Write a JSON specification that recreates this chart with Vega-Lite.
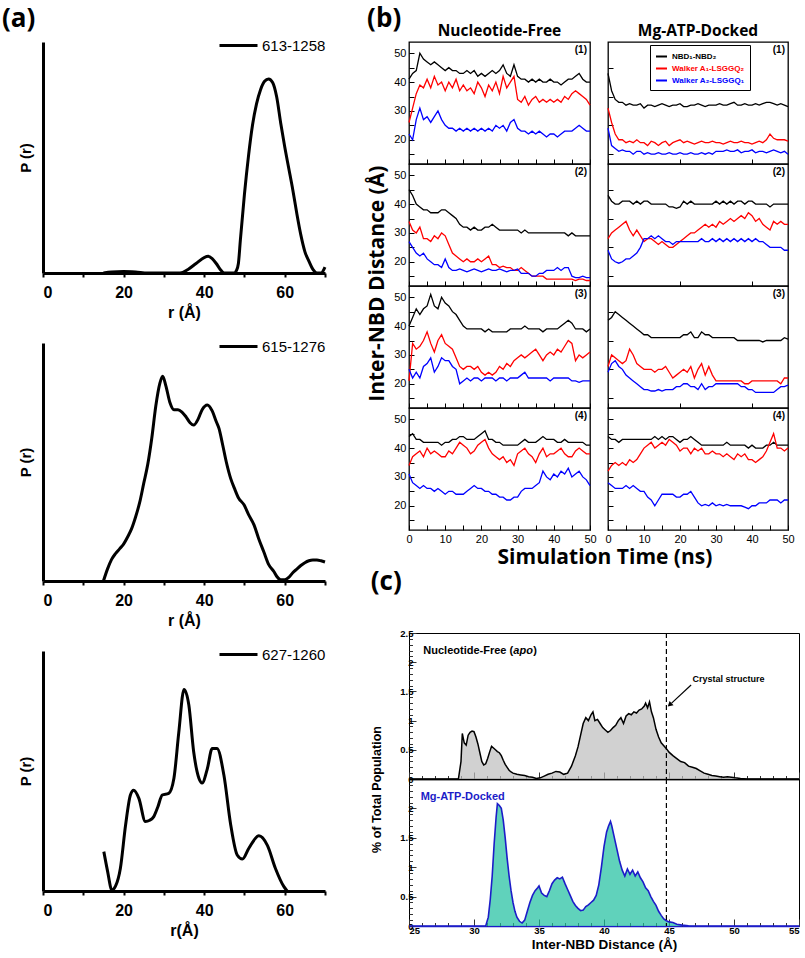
{
"$schema": "https://vega.github.io/schema/vega-lite/v6.json",
"padding": {"left": 2, "top": 5, "right": 2, "bottom": 2},
"background": "white",
"config": {
 "view": {"stroke": null},
 "font": "Liberation Sans",
 "axis": {"grid": false, "domainColor": "black", "tickColor": "black", "labelColor": "black", "titleColor": "black", "labelOverlap": false},
 "title": {"color": "black"}
},
"datasets": {
"a1": [{"r":15,"P":0},{"r":17,"P":0.004},{"r":20,"P":0.006},{"r":23,"P":0.004},{"r":26,"P":0},{"r":30,"P":0},{"r":34,"P":0},{"r":36,"P":0.015},{"r":38,"P":0.04},{"r":40,"P":0.065},{"r":41,"P":0.07},{"r":42,"P":0.06},{"r":43,"P":0.04},{"r":44,"P":0.015},{"r":45,"P":0},{"r":47.5,"P":0},{"r":48,"P":0.01},{"r":48.5,"P":0.04},{"r":49,"P":0.14},{"r":50,"P":0.33},{"r":51,"P":0.49},{"r":52,"P":0.62},{"r":53,"P":0.71},{"r":54,"P":0.77},{"r":55,"P":0.805},{"r":56,"P":0.815},{"r":57,"P":0.8},{"r":58,"P":0.74},{"r":59,"P":0.63},{"r":60,"P":0.53},{"r":61,"P":0.44},{"r":62,"P":0.35},{"r":63,"P":0.25},{"r":64,"P":0.16},{"r":65,"P":0.09},{"r":66,"P":0.05},{"r":67,"P":0.015},{"r":68,"P":0},{"r":69,"P":0},{"r":70,"P":0.025}],
"a2": [{"r":15,"P":0},{"r":16,"P":0.05},{"r":17,"P":0.09},{"r":18,"P":0.115},{"r":19,"P":0.135},{"r":20,"P":0.155},{"r":21,"P":0.185},{"r":22,"P":0.22},{"r":23,"P":0.27},{"r":24,"P":0.33},{"r":25,"P":0.41},{"r":26,"P":0.49},{"r":27,"P":0.6},{"r":28,"P":0.735},{"r":29,"P":0.83},{"r":29.7,"P":0.86},{"r":30.5,"P":0.82},{"r":31.5,"P":0.75},{"r":32.5,"P":0.72},{"r":33.5,"P":0.72},{"r":34.5,"P":0.71},{"r":35.5,"P":0.69},{"r":36.5,"P":0.665},{"r":37.4,"P":0.655},{"r":38.5,"P":0.68},{"r":39.5,"P":0.72},{"r":40.8,"P":0.74},{"r":42,"P":0.715},{"r":43,"P":0.67},{"r":43.7,"P":0.64},{"r":44.5,"P":0.58},{"r":45.5,"P":0.5},{"r":46.6,"P":0.43},{"r":47.5,"P":0.39},{"r":48.5,"P":0.35},{"r":49.9,"P":0.32},{"r":51,"P":0.28},{"r":52.4,"P":0.235},{"r":53.5,"P":0.18},{"r":54.8,"P":0.123},{"r":56,"P":0.07},{"r":57.3,"P":0.04},{"r":58,"P":0.02},{"r":59,"P":0.005},{"r":60,"P":0.005},{"r":61,"P":0.015},{"r":62,"P":0.035},{"r":63,"P":0.05},{"r":64,"P":0.065},{"r":65,"P":0.077},{"r":66,"P":0.085},{"r":67,"P":0.088},{"r":68,"P":0.088},{"r":69,"P":0.085},{"r":70,"P":0.08}],
"a3": [{"r":15.1,"P":0.164},{"r":16,"P":0.085},{"r":17.1,"P":0.004},{"r":18,"P":0.02},{"r":19.2,"P":0.094},{"r":20.5,"P":0.275},{"r":21.7,"P":0.4},{"r":22.5,"P":0.42},{"r":23.8,"P":0.386},{"r":25.4,"P":0.29},{"r":26.5,"P":0.295},{"r":27.5,"P":0.31},{"r":28.5,"P":0.35},{"r":29.6,"P":0.4},{"r":31.2,"P":0.407},{"r":32.5,"P":0.47},{"r":33.7,"P":0.66},{"r":35,"P":0.84},{"r":36.2,"P":0.775},{"r":37.4,"P":0.58},{"r":38.7,"P":0.47},{"r":39.5,"P":0.45},{"r":40.8,"P":0.51},{"r":42,"P":0.594},{"r":43.2,"P":0.594},{"r":44.9,"P":0.483},{"r":46.6,"P":0.275},{"r":48.2,"P":0.15},{"r":49.5,"P":0.133},{"r":51.1,"P":0.178},{"r":53.6,"P":0.23},{"r":55.7,"P":0.19},{"r":57.7,"P":0.094},{"r":59.8,"P":0.018},{"r":60.6,"P":0}],
"cfree": [{"d":25,"p":0},{"d":28.8,"p":0},{"d":29.0,"p":0.3},{"d":29.1,"p":0.78},{"d":29.25,"p":0.62},{"d":29.4,"p":0.58},{"d":29.55,"p":0.75},{"d":29.7,"p":0.8},{"d":29.85,"p":0.82},{"d":30.0,"p":0.81},{"d":30.15,"p":0.72},{"d":30.3,"p":0.6},{"d":30.45,"p":0.45},{"d":30.6,"p":0.3},{"d":30.75,"p":0.24},{"d":30.9,"p":0.26},{"d":31.05,"p":0.35},{"d":31.2,"p":0.46},{"d":31.35,"p":0.56},{"d":31.5,"p":0.53},{"d":31.65,"p":0.5},{"d":31.8,"p":0.47},{"d":31.95,"p":0.45},{"d":32.1,"p":0.4},{"d":32.25,"p":0.32},{"d":32.4,"p":0.25},{"d":32.55,"p":0.2},{"d":32.7,"p":0.15},{"d":32.85,"p":0.12},{"d":33.0,"p":0.1},{"d":33.3,"p":0.08},{"d":33.6,"p":0.07},{"d":33.9,"p":0.06},{"d":34.2,"p":0.04},{"d":34.5,"p":0.03},{"d":34.8,"p":0.01},{"d":35.1,"p":0.02},{"d":35.4,"p":0.05},{"d":35.7,"p":0.08},{"d":36.0,"p":0.1},{"d":36.3,"p":0.13},{"d":36.6,"p":0.12},{"d":36.9,"p":0.08},{"d":37.2,"p":0.1},{"d":37.5,"p":0.22},{"d":37.8,"p":0.4},{"d":38.0,"p":0.55},{"d":38.2,"p":0.75},{"d":38.4,"p":0.95},{"d":38.6,"p":1.05},{"d":38.8,"p":1.0},{"d":39.0,"p":1.1},{"d":39.15,"p":1.15},{"d":39.3,"p":1.0},{"d":39.5,"p":1.02},{"d":39.7,"p":0.95},{"d":39.9,"p":0.88},{"d":40.1,"p":0.84},{"d":40.3,"p":0.8},{"d":40.5,"p":0.83},{"d":40.7,"p":0.88},{"d":40.9,"p":0.92},{"d":41.1,"p":1.0},{"d":41.3,"p":1.05},{"d":41.5,"p":0.95},{"d":41.7,"p":1.08},{"d":41.9,"p":1.12},{"d":42.1,"p":1.1},{"d":42.3,"p":1.15},{"d":42.5,"p":1.13},{"d":42.7,"p":1.18},{"d":42.9,"p":1.2},{"d":43.1,"p":1.25},{"d":43.2,"p":1.3},{"d":43.35,"p":1.22},{"d":43.5,"p":1.32},{"d":43.65,"p":1.15},{"d":43.8,"p":1.05},{"d":44.0,"p":0.85},{"d":44.2,"p":0.72},{"d":44.4,"p":0.62},{"d":44.6,"p":0.57},{"d":44.8,"p":0.52},{"d":45.0,"p":0.46},{"d":45.3,"p":0.4},{"d":45.6,"p":0.35},{"d":45.9,"p":0.3},{"d":46.2,"p":0.28},{"d":46.5,"p":0.22},{"d":46.8,"p":0.2},{"d":47.1,"p":0.18},{"d":47.4,"p":0.14},{"d":47.7,"p":0.1},{"d":48.0,"p":0.08},{"d":48.3,"p":0.06},{"d":48.6,"p":0.05},{"d":48.9,"p":0.04},{"d":49.2,"p":0.03},{"d":49.5,"p":0.04},{"d":49.8,"p":0.03},{"d":50.1,"p":0.02},{"d":50.5,"p":0.01},{"d":51,"p":0},{"d":55,"p":0}],
"cmg": [{"d":25,"p":0},{"d":30.9,"p":0},{"d":31.1,"p":0.15},{"d":31.25,"p":0.45},{"d":31.4,"p":0.85},{"d":31.55,"p":1.4},{"d":31.7,"p":1.85},{"d":31.8,"p":2.08},{"d":31.95,"p":2.05},{"d":32.1,"p":2.0},{"d":32.25,"p":1.8},{"d":32.4,"p":1.5},{"d":32.55,"p":1.15},{"d":32.7,"p":0.85},{"d":32.85,"p":0.6},{"d":33.0,"p":0.4},{"d":33.15,"p":0.25},{"d":33.3,"p":0.15},{"d":33.5,"p":0.08},{"d":33.7,"p":0.05},{"d":33.9,"p":0.1},{"d":34.1,"p":0.25},{"d":34.3,"p":0.4},{"d":34.5,"p":0.52},{"d":34.7,"p":0.6},{"d":34.9,"p":0.65},{"d":35.0,"p":0.68},{"d":35.2,"p":0.56},{"d":35.4,"p":0.52},{"d":35.6,"p":0.5},{"d":35.8,"p":0.6},{"d":36.0,"p":0.72},{"d":36.2,"p":0.78},{"d":36.4,"p":0.82},{"d":36.6,"p":0.8},{"d":36.8,"p":0.83},{"d":37.0,"p":0.72},{"d":37.2,"p":0.62},{"d":37.4,"p":0.52},{"d":37.6,"p":0.42},{"d":37.8,"p":0.35},{"d":38.0,"p":0.3},{"d":38.2,"p":0.26},{"d":38.4,"p":0.27},{"d":38.6,"p":0.33},{"d":38.8,"p":0.36},{"d":39.0,"p":0.4},{"d":39.2,"p":0.44},{"d":39.4,"p":0.52},{"d":39.6,"p":0.7},{"d":39.8,"p":1.0},{"d":40.0,"p":1.35},{"d":40.2,"p":1.6},{"d":40.35,"p":1.7},{"d":40.5,"p":1.78},{"d":40.6,"p":1.7},{"d":40.8,"p":1.5},{"d":41.0,"p":1.3},{"d":41.2,"p":1.1},{"d":41.4,"p":0.95},{"d":41.6,"p":0.85},{"d":41.8,"p":0.97},{"d":42.0,"p":0.88},{"d":42.2,"p":0.95},{"d":42.4,"p":0.85},{"d":42.6,"p":0.92},{"d":42.8,"p":0.82},{"d":43.0,"p":0.75},{"d":43.2,"p":0.65},{"d":43.4,"p":0.6},{"d":43.6,"p":0.5},{"d":43.8,"p":0.42},{"d":44.0,"p":0.35},{"d":44.2,"p":0.25},{"d":44.4,"p":0.18},{"d":44.6,"p":0.12},{"d":44.8,"p":0.09},{"d":45.0,"p":0.07},{"d":45.3,"p":0.06},{"d":45.6,"p":0.03},{"d":46.0,"p":0.015},{"d":46.5,"p":0.005},{"d":47,"p":0},{"d":55,"p":0}],
"ts": [
{"p":"NF1","t":0,"n":41,"a":26,"b":22},{"p":"NF1","t":1,"n":43,"a":31,"b":20},{"p":"NF1","t":2,"n":44,"a":36,"b":27},{"p":"NF1","t":3,"n":50,"a":39,"b":31},{"p":"NF1","t":4,"n":48,"a":38,"b":27},{"p":"NF1","t":5,"n":47,"a":41,"b":28},{"p":"NF1","t":6,"n":46,"a":38,"b":26},{"p":"NF1","t":7,"n":47,"a":42,"b":28},{"p":"NF1","t":8,"n":46,"a":39,"b":30},{"p":"NF1","t":9,"n":45,"a":40,"b":27},{"p":"NF1","t":10,"n":44,"a":37,"b":25},{"p":"NF1","t":11,"n":45,"a":40,"b":24},{"p":"NF1","t":12,"n":44,"a":38,"b":24},{"p":"NF1","t":13,"n":44,"a":41,"b":23},{"p":"NF1","t":14,"n":43,"a":37,"b":24},{"p":"NF1","t":15,"n":43,"a":39,"b":23},{"p":"NF1","t":16,"n":44,"a":37,"b":24},{"p":"NF1","t":17,"n":43,"a":38,"b":23},{"p":"NF1","t":18,"n":44,"a":36,"b":24},{"p":"NF1","t":19,"n":42,"a":40,"b":23},{"p":"NF1","t":20,"n":43,"a":38,"b":24},{"p":"NF1","t":21,"n":42,"a":35,"b":23},{"p":"NF1","t":22,"n":43,"a":39,"b":24},{"p":"NF1","t":23,"n":44,"a":37,"b":23},{"p":"NF1","t":24,"n":43,"a":40,"b":25},{"p":"NF1","t":25,"n":44,"a":36,"b":24},{"p":"NF1","t":26,"n":46,"a":42,"b":25},{"p":"NF1","t":27,"n":43,"a":38,"b":23},{"p":"NF1","t":28,"n":42,"a":40,"b":26},{"p":"NF1","t":29,"n":46,"a":42,"b":27},{"p":"NF1","t":30,"n":42,"a":34,"b":24},{"p":"NF1","t":31,"n":41,"a":33,"b":23},{"p":"NF1","t":32,"n":41,"a":35,"b":23},{"p":"NF1","t":33,"n":40,"a":32,"b":22},{"p":"NF1","t":34,"n":41,"a":34,"b":23},{"p":"NF1","t":35,"n":40,"a":35,"b":22},{"p":"NF1","t":36,"n":41,"a":33,"b":23},{"p":"NF1","t":37,"n":40,"a":34,"b":22},{"p":"NF1","t":38,"n":40,"a":33,"b":21},{"p":"NF1","t":39,"n":41,"a":34,"b":22},{"p":"NF1","t":40,"n":40,"a":33,"b":22},{"p":"NF1","t":41,"n":40,"a":34,"b":21},{"p":"NF1","t":42,"n":39,"a":33,"b":22},{"p":"NF1","t":43,"n":40,"a":35,"b":23},{"p":"NF1","t":44,"n":41,"a":34,"b":23},{"p":"NF1","t":45,"n":41,"a":36,"b":23},{"p":"NF1","t":46,"n":42,"a":37,"b":24},{"p":"NF1","t":47,"n":43,"a":36,"b":25},{"p":"NF1","t":48,"n":41,"a":35,"b":24},{"p":"NF1","t":49,"n":40,"a":34,"b":23},{"p":"NF1","t":50,"n":40,"a":32,"b":23},
{"p":"MG1","t":0,"n":43,"a":31,"b":24},{"p":"MG1","t":1,"n":37,"a":26,"b":18},{"p":"MG1","t":2,"n":34,"a":22,"b":17},{"p":"MG1","t":3,"n":33,"a":20,"b":16},{"p":"MG1","t":4,"n":33,"a":20,"b":16.5},{"p":"MG1","t":5,"n":32,"a":19,"b":16},{"p":"MG1","t":6,"n":32.5,"a":19.5,"b":16},{"p":"MG1","t":7,"n":32,"a":19,"b":15},{"p":"MG1","t":8,"n":32,"a":20,"b":16},{"p":"MG1","t":9,"n":32.5,"a":19,"b":16},{"p":"MG1","t":10,"n":31,"a":19,"b":15},{"p":"MG1","t":11,"n":32,"a":18,"b":15.5},{"p":"MG1","t":12,"n":32,"a":19.5,"b":15},{"p":"MG1","t":13,"n":31.5,"a":19,"b":15},{"p":"MG1","t":14,"n":32,"a":18,"b":15.5},{"p":"MG1","t":15,"n":32.5,"a":19,"b":15},{"p":"MG1","t":16,"n":32,"a":19.5,"b":15},{"p":"MG1","t":17,"n":31.5,"a":18,"b":15.5},{"p":"MG1","t":18,"n":32,"a":19,"b":15},{"p":"MG1","t":19,"n":32,"a":19.5,"b":15},{"p":"MG1","t":20,"n":32.5,"a":20,"b":15.5},{"p":"MG1","t":21,"n":31.5,"a":19,"b":15},{"p":"MG1","t":22,"n":31.5,"a":19.5,"b":15},{"p":"MG1","t":23,"n":32,"a":19,"b":15.5},{"p":"MG1","t":24,"n":32,"a":18.5,"b":15},{"p":"MG1","t":25,"n":32.5,"a":19,"b":15},{"p":"MG1","t":26,"n":32,"a":19.5,"b":15.5},{"p":"MG1","t":27,"n":31.5,"a":19,"b":15},{"p":"MG1","t":28,"n":32,"a":19,"b":15.5},{"p":"MG1","t":29,"n":32,"a":19.5,"b":15},{"p":"MG1","t":30,"n":32,"a":19,"b":16},{"p":"MG1","t":31,"n":32.5,"a":19,"b":16},{"p":"MG1","t":32,"n":32,"a":18.5,"b":16},{"p":"MG1","t":33,"n":32,"a":19,"b":16.5},{"p":"MG1","t":34,"n":32.5,"a":19.5,"b":16},{"p":"MG1","t":35,"n":33,"a":19,"b":16},{"p":"MG1","t":36,"n":32,"a":19,"b":16.5},{"p":"MG1","t":37,"n":32,"a":19.5,"b":15.5},{"p":"MG1","t":38,"n":32.5,"a":19,"b":16},{"p":"MG1","t":39,"n":32,"a":19,"b":16},{"p":"MG1","t":40,"n":32,"a":18.5,"b":16.5},{"p":"MG1","t":41,"n":32.5,"a":19,"b":15.5},{"p":"MG1","t":42,"n":32,"a":19.5,"b":16},{"p":"MG1","t":43,"n":32.5,"a":19,"b":16},{"p":"MG1","t":44,"n":33,"a":20,"b":15.5},{"p":"MG1","t":45,"n":33,"a":22,"b":16},{"p":"MG1","t":46,"n":32.5,"a":20.5,"b":16.5},{"p":"MG1","t":47,"n":32,"a":20,"b":16},{"p":"MG1","t":48,"n":32.5,"a":20,"b":15.5},{"p":"MG1","t":49,"n":32,"a":20,"b":16},{"p":"MG1","t":50,"n":31.5,"a":19.5,"b":15},
{"p":"NF2","t":0,"n":45,"a":34,"b":27},{"p":"NF2","t":1,"n":43,"a":31,"b":25},{"p":"NF2","t":2,"n":40,"a":30,"b":23},{"p":"NF2","t":3,"n":39,"a":32,"b":22},{"p":"NF2","t":4,"n":38,"a":28,"b":23},{"p":"NF2","t":5,"n":38,"a":28,"b":21},{"p":"NF2","t":6,"n":37,"a":27,"b":20},{"p":"NF2","t":7,"n":37,"a":29,"b":19},{"p":"NF2","t":8,"n":37,"a":28,"b":19},{"p":"NF2","t":9,"n":38,"a":30,"b":18},{"p":"NF2","t":10,"n":38,"a":29,"b":21},{"p":"NF2","t":11,"n":37,"a":26,"b":18},{"p":"NF2","t":12,"n":36,"a":23,"b":17},{"p":"NF2","t":13,"n":35,"a":22,"b":17},{"p":"NF2","t":14,"n":33,"a":21,"b":17.5},{"p":"NF2","t":15,"n":32,"a":20,"b":17},{"p":"NF2","t":16,"n":32,"a":21,"b":16.5},{"p":"NF2","t":17,"n":31,"a":20,"b":17},{"p":"NF2","t":18,"n":32,"a":20,"b":17.5},{"p":"NF2","t":19,"n":31,"a":21,"b":17},{"p":"NF2","t":20,"n":31,"a":20,"b":16.5},{"p":"NF2","t":21,"n":32,"a":21,"b":17},{"p":"NF2","t":22,"n":32,"a":22,"b":17.5},{"p":"NF2","t":23,"n":33,"a":19,"b":17},{"p":"NF2","t":24,"n":32,"a":19,"b":17},{"p":"NF2","t":25,"n":31,"a":18,"b":17.5},{"p":"NF2","t":26,"n":31,"a":18.5,"b":17},{"p":"NF2","t":27,"n":31,"a":18,"b":16.5},{"p":"NF2","t":28,"n":31,"a":18,"b":17},{"p":"NF2","t":29,"n":31,"a":17,"b":17},{"p":"NF2","t":30,"n":31,"a":17,"b":17.5},{"p":"NF2","t":31,"n":30,"a":18,"b":16},{"p":"NF2","t":32,"n":31,"a":17,"b":16},{"p":"NF2","t":33,"n":30,"a":16,"b":16},{"p":"NF2","t":34,"n":30,"a":15,"b":15},{"p":"NF2","t":35,"n":30,"a":15,"b":15},{"p":"NF2","t":36,"n":30,"a":15,"b":16},{"p":"NF2","t":37,"n":30,"a":15,"b":16},{"p":"NF2","t":38,"n":30,"a":14,"b":17},{"p":"NF2","t":39,"n":30,"a":14,"b":17},{"p":"NF2","t":40,"n":30,"a":14,"b":17},{"p":"NF2","t":41,"n":30,"a":14,"b":18},{"p":"NF2","t":42,"n":30,"a":14,"b":17},{"p":"NF2","t":43,"n":30,"a":14,"b":18},{"p":"NF2","t":44,"n":29,"a":14,"b":18},{"p":"NF2","t":45,"n":30,"a":14,"b":15},{"p":"NF2","t":46,"n":29,"a":13.5,"b":14.5},{"p":"NF2","t":47,"n":29,"a":14,"b":14.5},{"p":"NF2","t":48,"n":29,"a":14,"b":15},{"p":"NF2","t":49,"n":29,"a":13.5,"b":14.5},{"p":"NF2","t":50,"n":29,"a":13.5,"b":14.5},
{"p":"MG2","t":0,"n":43,"a":28,"b":24},{"p":"MG2","t":1,"n":41,"a":30,"b":21},{"p":"MG2","t":2,"n":40,"a":31,"b":20},{"p":"MG2","t":3,"n":40,"a":32,"b":19.5},{"p":"MG2","t":4,"n":41,"a":33,"b":20},{"p":"MG2","t":5,"n":41,"a":34,"b":21},{"p":"MG2","t":6,"n":41,"a":31,"b":21},{"p":"MG2","t":7,"n":40,"a":29,"b":22},{"p":"MG2","t":8,"n":41,"a":31,"b":23},{"p":"MG2","t":9,"n":40,"a":29,"b":25},{"p":"MG2","t":10,"n":41,"a":27,"b":28},{"p":"MG2","t":11,"n":41,"a":28,"b":28},{"p":"MG2","t":12,"n":40,"a":28,"b":29},{"p":"MG2","t":13,"n":40,"a":27,"b":28},{"p":"MG2","t":14,"n":40,"a":26,"b":29},{"p":"MG2","t":15,"n":40,"a":27,"b":28},{"p":"MG2","t":16,"n":40,"a":26,"b":27},{"p":"MG2","t":17,"n":39,"a":25,"b":27},{"p":"MG2","t":18,"n":39,"a":25,"b":26},{"p":"MG2","t":19,"n":38.5,"a":26,"b":27},{"p":"MG2","t":20,"n":39,"a":27,"b":27},{"p":"MG2","t":21,"n":41,"a":28,"b":27},{"p":"MG2","t":22,"n":40,"a":29,"b":27},{"p":"MG2","t":23,"n":41,"a":30,"b":27},{"p":"MG2","t":24,"n":40,"a":30,"b":27},{"p":"MG2","t":25,"n":40,"a":31,"b":27},{"p":"MG2","t":26,"n":40,"a":32,"b":28},{"p":"MG2","t":27,"n":40,"a":33,"b":27},{"p":"MG2","t":28,"n":40,"a":32,"b":27},{"p":"MG2","t":29,"n":40,"a":33,"b":28},{"p":"MG2","t":30,"n":41,"a":32,"b":27},{"p":"MG2","t":31,"n":40,"a":34,"b":28},{"p":"MG2","t":32,"n":41,"a":33,"b":27},{"p":"MG2","t":33,"n":40,"a":34,"b":28},{"p":"MG2","t":34,"n":41,"a":35,"b":27},{"p":"MG2","t":35,"n":40,"a":34,"b":28},{"p":"MG2","t":36,"n":41,"a":35,"b":27},{"p":"MG2","t":37,"n":41,"a":36,"b":28},{"p":"MG2","t":38,"n":40,"a":35,"b":27},{"p":"MG2","t":39,"n":41,"a":37,"b":28},{"p":"MG2","t":40,"n":41,"a":36,"b":27},{"p":"MG2","t":41,"n":40,"a":34,"b":28},{"p":"MG2","t":42,"n":40,"a":35,"b":27},{"p":"MG2","t":43,"n":40,"a":33,"b":27},{"p":"MG2","t":44,"n":40,"a":32,"b":26},{"p":"MG2","t":45,"n":39,"a":31,"b":25},{"p":"MG2","t":46,"n":40,"a":34,"b":25},{"p":"MG2","t":47,"n":40,"a":33,"b":25},{"p":"MG2","t":48,"n":40,"a":34,"b":25},{"p":"MG2","t":49,"n":40,"a":33,"b":24},{"p":"MG2","t":50,"n":40,"a":33,"b":24},
{"p":"NF3","t":0,"n":40,"a":21,"b":25},{"p":"NF3","t":1,"n":43,"a":34,"b":22},{"p":"NF3","t":2,"n":46,"a":32,"b":24},{"p":"NF3","t":3,"n":44,"a":33,"b":22},{"p":"NF3","t":4,"n":46,"a":35,"b":26},{"p":"NF3","t":5,"n":47,"a":38,"b":27},{"p":"NF3","t":6,"n":51,"a":34,"b":29},{"p":"NF3","t":7,"n":47,"a":31,"b":24},{"p":"NF3","t":8,"n":46,"a":35,"b":26},{"p":"NF3","t":9,"n":50,"a":37,"b":29},{"p":"NF3","t":10,"n":48,"a":34,"b":28},{"p":"NF3","t":11,"n":47,"a":33,"b":28},{"p":"NF3","t":12,"n":45,"a":32,"b":26},{"p":"NF3","t":13,"n":44,"a":29,"b":25},{"p":"NF3","t":14,"n":42,"a":26,"b":20},{"p":"NF3","t":15,"n":40,"a":25,"b":21},{"p":"NF3","t":16,"n":39,"a":26,"b":22},{"p":"NF3","t":17,"n":39,"a":26,"b":21},{"p":"NF3","t":18,"n":39,"a":25,"b":22},{"p":"NF3","t":19,"n":39,"a":26,"b":22},{"p":"NF3","t":20,"n":39,"a":24,"b":21},{"p":"NF3","t":21,"n":38,"a":23,"b":22},{"p":"NF3","t":22,"n":39,"a":24,"b":22},{"p":"NF3","t":23,"n":38,"a":23,"b":22},{"p":"NF3","t":24,"n":38,"a":24,"b":21},{"p":"NF3","t":25,"n":38,"a":26,"b":22},{"p":"NF3","t":26,"n":38,"a":25,"b":22},{"p":"NF3","t":27,"n":38,"a":27,"b":21},{"p":"NF3","t":28,"n":39,"a":26,"b":22},{"p":"NF3","t":29,"n":39,"a":28,"b":22},{"p":"NF3","t":30,"n":39,"a":29,"b":22},{"p":"NF3","t":31,"n":39,"a":30,"b":23},{"p":"NF3","t":32,"n":40,"a":29,"b":24},{"p":"NF3","t":33,"n":39,"a":30,"b":22},{"p":"NF3","t":34,"n":39,"a":31,"b":22},{"p":"NF3","t":35,"n":39,"a":32,"b":22},{"p":"NF3","t":36,"n":39,"a":30,"b":22},{"p":"NF3","t":37,"n":38,"a":28,"b":22},{"p":"NF3","t":38,"n":39,"a":30,"b":22},{"p":"NF3","t":39,"n":39,"a":31,"b":21},{"p":"NF3","t":40,"n":39,"a":30,"b":22},{"p":"NF3","t":41,"n":39,"a":32,"b":22},{"p":"NF3","t":42,"n":40,"a":31,"b":22},{"p":"NF3","t":43,"n":41,"a":33,"b":22},{"p":"NF3","t":44,"n":42,"a":35,"b":22},{"p":"NF3","t":45,"n":41,"a":34,"b":21},{"p":"NF3","t":46,"n":39,"a":28,"b":21},{"p":"NF3","t":47,"n":39,"a":30,"b":20.5},{"p":"NF3","t":48,"n":39,"a":29,"b":21},{"p":"NF3","t":49,"n":38,"a":30,"b":21},{"p":"NF3","t":50,"n":39,"a":31,"b":21},
{"p":"MG3","t":0,"n":42,"a":26,"b":24},{"p":"MG3","t":1,"n":43,"a":30,"b":27},{"p":"MG3","t":2,"n":45,"a":29,"b":28},{"p":"MG3","t":3,"n":44,"a":28,"b":26},{"p":"MG3","t":4,"n":43,"a":27,"b":25},{"p":"MG3","t":5,"n":42,"a":28,"b":23},{"p":"MG3","t":6,"n":41,"a":32,"b":22},{"p":"MG3","t":7,"n":40,"a":30,"b":21},{"p":"MG3","t":8,"n":39,"a":27,"b":20},{"p":"MG3","t":9,"n":38,"a":26,"b":19},{"p":"MG3","t":10,"n":37,"a":25,"b":18},{"p":"MG3","t":11,"n":37,"a":25,"b":18},{"p":"MG3","t":12,"n":36,"a":25,"b":17.5},{"p":"MG3","t":13,"n":36,"a":24,"b":17.5},{"p":"MG3","t":14,"n":36,"a":25,"b":18},{"p":"MG3","t":15,"n":36,"a":25,"b":17.5},{"p":"MG3","t":16,"n":36,"a":26,"b":18},{"p":"MG3","t":17,"n":36,"a":24,"b":18},{"p":"MG3","t":18,"n":36,"a":22,"b":18},{"p":"MG3","t":19,"n":36,"a":23,"b":19},{"p":"MG3","t":20,"n":36,"a":24,"b":19},{"p":"MG3","t":21,"n":37,"a":25,"b":20},{"p":"MG3","t":22,"n":37,"a":24,"b":20},{"p":"MG3","t":23,"n":38,"a":26,"b":19},{"p":"MG3","t":24,"n":36,"a":22,"b":19},{"p":"MG3","t":25,"n":36,"a":25,"b":18},{"p":"MG3","t":26,"n":38,"a":27,"b":20},{"p":"MG3","t":27,"n":37,"a":23,"b":18},{"p":"MG3","t":28,"n":37,"a":26,"b":19},{"p":"MG3","t":29,"n":36,"a":23,"b":19},{"p":"MG3","t":30,"n":36,"a":21,"b":20},{"p":"MG3","t":31,"n":36,"a":21,"b":20},{"p":"MG3","t":32,"n":36,"a":21,"b":20},{"p":"MG3","t":33,"n":36,"a":21,"b":20},{"p":"MG3","t":34,"n":36,"a":21,"b":20},{"p":"MG3","t":35,"n":36,"a":21,"b":20},{"p":"MG3","t":36,"n":35,"a":21,"b":20},{"p":"MG3","t":37,"n":35,"a":21,"b":19},{"p":"MG3","t":38,"n":35,"a":20,"b":19},{"p":"MG3","t":39,"n":35,"a":20,"b":18},{"p":"MG3","t":40,"n":35,"a":21,"b":18},{"p":"MG3","t":41,"n":35,"a":21,"b":17},{"p":"MG3","t":42,"n":35,"a":21,"b":17},{"p":"MG3","t":43,"n":34.5,"a":21,"b":17},{"p":"MG3","t":44,"n":35,"a":21,"b":17},{"p":"MG3","t":45,"n":35,"a":21,"b":17},{"p":"MG3","t":46,"n":35,"a":21,"b":17},{"p":"MG3","t":47,"n":35,"a":21,"b":18},{"p":"MG3","t":48,"n":35,"a":20,"b":19},{"p":"MG3","t":49,"n":36,"a":22,"b":19},{"p":"MG3","t":50,"n":35.5,"a":22,"b":19.5},
{"p":"NF4","t":0,"n":44,"a":34,"b":31},{"p":"NF4","t":1,"n":45,"a":37,"b":28},{"p":"NF4","t":2,"n":43,"a":38,"b":27},{"p":"NF4","t":3,"n":43,"a":39,"b":26},{"p":"NF4","t":4,"n":42,"a":37,"b":27},{"p":"NF4","t":5,"n":42,"a":40,"b":26},{"p":"NF4","t":6,"n":42,"a":38,"b":26},{"p":"NF4","t":7,"n":42,"a":39,"b":25},{"p":"NF4","t":8,"n":42,"a":38,"b":26},{"p":"NF4","t":9,"n":41,"a":37,"b":25},{"p":"NF4","t":10,"n":42,"a":37,"b":24},{"p":"NF4","t":11,"n":42,"a":39,"b":25},{"p":"NF4","t":12,"n":43,"a":38,"b":25},{"p":"NF4","t":13,"n":43,"a":40,"b":24},{"p":"NF4","t":14,"n":44,"a":42,"b":24},{"p":"NF4","t":15,"n":44,"a":41,"b":24},{"p":"NF4","t":16,"n":43,"a":40,"b":25},{"p":"NF4","t":17,"n":43,"a":38,"b":26},{"p":"NF4","t":18,"n":43,"a":39,"b":27},{"p":"NF4","t":19,"n":44,"a":41,"b":26},{"p":"NF4","t":20,"n":45,"a":42,"b":26},{"p":"NF4","t":21,"n":46,"a":43,"b":25},{"p":"NF4","t":22,"n":43,"a":40,"b":25},{"p":"NF4","t":23,"n":43,"a":38,"b":24},{"p":"NF4","t":24,"n":42,"a":37,"b":24},{"p":"NF4","t":25,"n":42,"a":36,"b":23},{"p":"NF4","t":26,"n":41,"a":37,"b":23},{"p":"NF4","t":27,"n":41,"a":35,"b":22},{"p":"NF4","t":28,"n":41,"a":36,"b":22},{"p":"NF4","t":29,"n":41,"a":34,"b":23},{"p":"NF4","t":30,"n":41,"a":38,"b":23},{"p":"NF4","t":31,"n":42,"a":39,"b":25},{"p":"NF4","t":32,"n":43,"a":40,"b":26},{"p":"NF4","t":33,"n":42,"a":38,"b":26},{"p":"NF4","t":34,"n":42,"a":37,"b":26},{"p":"NF4","t":35,"n":42,"a":35,"b":27},{"p":"NF4","t":36,"n":43,"a":38,"b":28},{"p":"NF4","t":37,"n":44,"a":40,"b":32},{"p":"NF4","t":38,"n":43,"a":37,"b":30},{"p":"NF4","t":39,"n":43,"a":38,"b":29},{"p":"NF4","t":40,"n":43,"a":38,"b":31},{"p":"NF4","t":41,"n":42,"a":39,"b":30},{"p":"NF4","t":42,"n":42,"a":40,"b":32},{"p":"NF4","t":43,"n":43,"a":38,"b":31},{"p":"NF4","t":44,"n":42,"a":37,"b":33},{"p":"NF4","t":45,"n":42,"a":37,"b":30},{"p":"NF4","t":46,"n":42,"a":39,"b":31},{"p":"NF4","t":47,"n":42,"a":40,"b":32},{"p":"NF4","t":48,"n":42,"a":39,"b":30},{"p":"NF4","t":49,"n":41,"a":38,"b":29},{"p":"NF4","t":50,"n":41,"a":38,"b":27},
{"p":"MG4","t":0,"n":44,"a":32,"b":28},{"p":"MG4","t":1,"n":43,"a":34,"b":27},{"p":"MG4","t":2,"n":43,"a":35,"b":26},{"p":"MG4","t":3,"n":42,"a":34,"b":26},{"p":"MG4","t":4,"n":43,"a":35,"b":26},{"p":"MG4","t":5,"n":43,"a":34,"b":27},{"p":"MG4","t":6,"n":43,"a":36,"b":26},{"p":"MG4","t":7,"n":43,"a":35,"b":27},{"p":"MG4","t":8,"n":43,"a":36,"b":26},{"p":"MG4","t":9,"n":43,"a":38,"b":25},{"p":"MG4","t":10,"n":43,"a":40,"b":25},{"p":"MG4","t":11,"n":43,"a":41,"b":23},{"p":"MG4","t":12,"n":43,"a":42,"b":22},{"p":"MG4","t":13,"n":44,"a":40,"b":20},{"p":"MG4","t":14,"n":43,"a":41,"b":22},{"p":"MG4","t":15,"n":44,"a":42,"b":24},{"p":"MG4","t":16,"n":43,"a":41,"b":24},{"p":"MG4","t":17,"n":44,"a":43,"b":24},{"p":"MG4","t":18,"n":44,"a":42,"b":24},{"p":"MG4","t":19,"n":43,"a":41,"b":23},{"p":"MG4","t":20,"n":42,"a":39,"b":23},{"p":"MG4","t":21,"n":43,"a":40,"b":24},{"p":"MG4","t":22,"n":43,"a":40,"b":24},{"p":"MG4","t":23,"n":44,"a":38,"b":25},{"p":"MG4","t":24,"n":43,"a":40,"b":23},{"p":"MG4","t":25,"n":42,"a":39,"b":21},{"p":"MG4","t":26,"n":41,"a":40,"b":20},{"p":"MG4","t":27,"n":41,"a":38,"b":20.5},{"p":"MG4","t":28,"n":41,"a":38,"b":20},{"p":"MG4","t":29,"n":41,"a":39,"b":21},{"p":"MG4","t":30,"n":41,"a":38,"b":20},{"p":"MG4","t":31,"n":41,"a":38,"b":20.5},{"p":"MG4","t":32,"n":41,"a":37,"b":20},{"p":"MG4","t":33,"n":42,"a":38,"b":20.5},{"p":"MG4","t":34,"n":41,"a":37,"b":20},{"p":"MG4","t":35,"n":41,"a":36,"b":20},{"p":"MG4","t":36,"n":41,"a":38,"b":20},{"p":"MG4","t":37,"n":41,"a":37,"b":20},{"p":"MG4","t":38,"n":41,"a":38,"b":19.5},{"p":"MG4","t":39,"n":40,"a":36,"b":19},{"p":"MG4","t":40,"n":41,"a":36,"b":20},{"p":"MG4","t":41,"n":40,"a":35,"b":20},{"p":"MG4","t":42,"n":40,"a":36,"b":21},{"p":"MG4","t":43,"n":40,"a":37,"b":21},{"p":"MG4","t":44,"n":41,"a":39,"b":21},{"p":"MG4","t":45,"n":41,"a":42,"b":22},{"p":"MG4","t":46,"n":42,"a":45,"b":22},{"p":"MG4","t":47,"n":41,"a":40,"b":22},{"p":"MG4","t":48,"n":41,"a":40,"b":21},{"p":"MG4","t":49,"n":41,"a":39,"b":22},{"p":"MG4","t":50,"n":41,"a":40,"b":22}
]
},
"resolve": {"scale": {"color": "independent"}},
"spacing": 36,
"hconcat": [
{
 "spacing": 6,
 "resolve": {"scale": {"color": "independent"}},
 "vconcat": [
  {"width": 282, "height": 231, "data": {"name": "a1"},
   "title": {"text": "(a)", "anchor": "start", "frame": "bounds", "font": "Open Sans", "fontSize": 26, "fontWeight": "bold", "dx": -16, "offset": -7},
   "mark": {"type": "line", "interpolate": "monotone", "strokeWidth": 3},
   "encoding": {
    "x": {"field": "r", "type": "quantitative", "scale": {"domain": [0, 70], "nice": false}, "axis": {"title": "r (Å)", "values": [0,10,20,30,40,50,60,70], "labelExpr": "datum.value % 20 == 0 ? datum.label : ''", "labelFontSize": 16, "labelFontWeight": "bold", "labelPadding": 7, "titleFontSize": 16, "titleFontWeight": "bold", "titlePadding": 4, "domainWidth": 3, "tickSize": 4, "tickWidth": 2}},
    "y": {"field": "P", "type": "quantitative", "scale": {"domain": [0, 0.97], "nice": false}, "axis": {"title": "P (r)", "labels": false, "ticks": false, "domainWidth": 3, "titleFontSize": 15, "titleFontWeight": "bold", "titlePadding": 10, "minExtent": 0}},
    "color": {"datum": "613-1258", "type": "nominal", "scale": {"range": ["#000000"]}, "legend": {"orient": "none", "legendX": 175, "legendY": -17, "title": null, "symbolType": "stroke", "symbolSize": 1444, "symbolStrokeWidth": 3, "labelFontSize": 15, "labelOffset": 3, "padding": 0}}
   }},
  {"width": 282, "height": 238, "data": {"name": "a2"},
   "mark": {"type": "line", "interpolate": "monotone", "strokeWidth": 3},
   "encoding": {
    "x": {"field": "r", "type": "quantitative", "scale": {"domain": [0, 70], "nice": false}, "axis": {"title": "r (Å)", "values": [0,10,20,30,40,50,60,70], "labelExpr": "datum.value % 20 == 0 ? datum.label : ''", "labelFontSize": 16, "labelFontWeight": "bold", "labelPadding": 7, "titleFontSize": 16, "titleFontWeight": "bold", "titlePadding": 4, "domainWidth": 3, "tickSize": 4, "tickWidth": 2}},
    "y": {"field": "P", "type": "quantitative", "scale": {"domain": [0, 1], "nice": false}, "axis": {"title": "P (r)", "labels": false, "ticks": false, "domainWidth": 3, "titleFontSize": 15, "titleFontWeight": "bold", "titlePadding": 10, "minExtent": 0}},
    "color": {"datum": "615-1276", "type": "nominal", "scale": {"range": ["#000000"]}, "legend": {"orient": "none", "legendX": 175, "legendY": -17, "title": null, "symbolType": "stroke", "symbolSize": 1444, "symbolStrokeWidth": 3, "labelFontSize": 15, "labelOffset": 3, "padding": 0}}
   }},
  {"width": 282, "height": 240, "data": {"name": "a3"},
   "mark": {"type": "line", "interpolate": "monotone", "strokeWidth": 3},
   "encoding": {
    "x": {"field": "r", "type": "quantitative", "scale": {"domain": [0, 70], "nice": false}, "axis": {"title": "r(Å)", "values": [0,10,20,30,40,50,60,70], "labelExpr": "datum.value % 20 == 0 ? datum.label : ''", "labelFontSize": 16, "labelFontWeight": "bold", "labelPadding": 7, "titleFontSize": 16, "titleFontWeight": "bold", "titlePadding": 4, "domainWidth": 3, "tickSize": 4, "tickWidth": 2}},
    "y": {"field": "P", "type": "quantitative", "scale": {"domain": [0, 1], "nice": false}, "axis": {"title": "P (r)", "labels": false, "ticks": false, "domainWidth": 3, "titleFontSize": 15, "titleFontWeight": "bold", "titlePadding": 10, "minExtent": 0}},
    "color": {"datum": "627-1260", "type": "nominal", "scale": {"range": ["#000000"]}, "legend": {"orient": "none", "legendX": 175, "legendY": -17, "title": null, "symbolType": "stroke", "symbolSize": 1444, "symbolStrokeWidth": 3, "labelFontSize": 15, "labelOffset": 3, "padding": 0}}
   }}
 ]
},
{
 "spacing": 0,
 "vconcat": [
  {
   "title": {"text": "(b)", "anchor": "start", "frame": "bounds", "font": "Open Sans", "fontSize": 26, "fontWeight": "bold", "offset": -9},
   "vconcat": [{
    "title": {"text": "Simulation Time (ns)", "orient": "bottom", "anchor": "middle", "frame": "bounds", "font": "Open Sans", "fontSize": 21, "fontWeight": "bold", "offset": 2, "dx": 24},
    "vconcat": [{
     "title": {"text": "Inter-NBD Distance (Å)", "orient": "left", "anchor": "middle", "frame": "bounds", "font": "Open Sans", "fontSize": 21, "fontWeight": "bold", "offset": 5},
     "columns": 2,
     "spacing": {"row": 0, "column": 18},
     "bounds": "flush",
     "concat": [
      {"width": 181, "height": 122, "view": {"stroke": "black", "strokeWidth": 1.3},
       "title": {"text": "Nucleotide-Free", "font": "Open Sans", "fontSize": 15.5, "fontWeight": "bold", "offset": 3},
       "resolve": {"axis": {"x": "independent", "y": "independent"}},
       "layer": [
        {"data": {"name": "ts"}, "transform": [{"filter": "datum.p == 'NF1'"}, {"fold": ["n","a","b"], "as": ["s","v"]}],
         "mark": {"type": "line", "strokeWidth": 1.3},
         "encoding": {
          "x": {"field": "t", "type": "quantitative", "scale": {"domain": [0, 50], "nice": false}, "axis": {"orient": "bottom", "values": [0,10,20,30,40,50], "labels": false, "title": null, "domain": false, "tickSize": -5}},
          "y": {"field": "v", "type": "quantitative", "scale": {"domain": [11.6, 53.9], "nice": false, "zero": false}, "axis": {"orient": "left", "values": [20,30,40,50], "labelOverlap": false, "labelFontSize": 11, "labelPadding": 8, "title": null, "domain": false, "tickSize": -5, "minExtent": 0}},
          "color": {"field": "s", "type": "nominal", "scale": {"domain": ["n","a","b"], "range": ["#000000","#ff0000","#0000ff"]}, "legend": {"orient": "none", "legendX": 241, "legendY": 3, "title": null, "symbolType": "stroke", "symbolSize": 121, "symbolStrokeWidth": 2, "labelFontSize": 8, "labelFontWeight": "bold", "labelExpr": "datum.value == 'n' ? 'NBD₁-NBD₂' : datum.value == 'a' ? 'Walker A₁-LSGGQ₂' : 'Walker A₂-LSGGQ₁'", "labelColor": {"expr": "datum.value == 'n' ? '#000000' : datum.value == 'a' ? '#ff0000' : '#0000ff'"}, "strokeColor": "black", "fillColor": "white", "padding": 5, "rowPadding": 1, "labelOffset": 4}}
         }},
        {"data": {"values": [{"lab": "(1)"}]}, "mark": {"type": "text", "align": "right", "baseline": "top", "dx": -3, "dy": 3, "fontSize": 10, "fontWeight": "bold", "color": "black"},
         "encoding": {"x": {"datum": 50, "type": "quantitative", "axis": {"orient": "bottom", "values": [5,15,25,35,45], "labels": false, "title": null, "domain": false, "tickSize": -5}}, "y": {"datum": 53.9, "type": "quantitative", "axis": {"orient": "left", "values": [15,25,35,45], "labels": false, "title": null, "domain": false, "tickSize": -5, "minExtent": 0}}, "text": {"field": "lab"}}}
       ]},
      {"width": 180, "height": 122, "view": {"stroke": "black", "strokeWidth": 1.3},
       "title": {"text": "Mg-ATP-Docked", "font": "Open Sans", "fontSize": 15.5, "fontWeight": "bold", "offset": 3},
       "layer": [
        {"data": {"name": "ts"}, "transform": [{"filter": "datum.p == 'MG1'"}, {"fold": ["n","a","b"], "as": ["s","v"]}],
         "mark": {"type": "line", "strokeWidth": 1.3},
         "encoding": {
          "x": {"field": "t", "type": "quantitative", "scale": {"domain": [0, 50], "nice": false}, "axis": {"values": [0,5,10,15,20,25,30,35,40,45,50], "labels": false, "title": null, "domain": false, "tickSize": -5}},
          "y": {"field": "v", "type": "quantitative", "scale": {"domain": [11.6, 53.9], "nice": false, "zero": false}, "axis": {"values": [15,20,25,30,35,40,45,50], "labels": false, "title": null, "domain": false, "tickSize": -5, "minExtent": 0}},
          "color": {"field": "s", "type": "nominal", "scale": {"domain": ["n","a","b"], "range": ["#000000","#ff0000","#0000ff"]}}
         }},
        {"data": {"values": [{"lab": "(1)"}]}, "mark": {"type": "text", "align": "right", "baseline": "top", "dx": -3, "dy": 3, "fontSize": 10, "fontWeight": "bold", "color": "black"},
         "encoding": {"x": {"datum": 50, "type": "quantitative"}, "y": {"datum": 53.9, "type": "quantitative"}, "text": {"field": "lab"}}}
       ]},
      {"width": 181, "height": 122, "view": {"stroke": "black", "strokeWidth": 1.3},
       "resolve": {"axis": {"x": "independent", "y": "independent"}},
       "layer": [
        {"data": {"name": "ts"}, "transform": [{"filter": "datum.p == 'NF2'"}, {"fold": ["n","a","b"], "as": ["s","v"]}],
         "mark": {"type": "line", "strokeWidth": 1.3},
         "encoding": {
          "x": {"field": "t", "type": "quantitative", "scale": {"domain": [0, 50], "nice": false}, "axis": {"orient": "bottom", "values": [0,10,20,30,40,50], "labels": false, "title": null, "domain": false, "tickSize": -5}},
          "y": {"field": "v", "type": "quantitative", "scale": {"domain": [11.6, 53.9], "nice": false, "zero": false}, "axis": {"orient": "left", "values": [20,30,40,50], "labelOverlap": false, "labelFontSize": 11, "labelPadding": 8, "title": null, "domain": false, "tickSize": -5, "minExtent": 0}},
          "color": {"field": "s", "type": "nominal", "scale": {"domain": ["n","a","b"], "range": ["#000000","#ff0000","#0000ff"]}}
         }},
        {"data": {"values": [{"lab": "(2)"}]}, "mark": {"type": "text", "align": "right", "baseline": "top", "dx": -3, "dy": 3, "fontSize": 10, "fontWeight": "bold", "color": "black"},
         "encoding": {"x": {"datum": 50, "type": "quantitative", "axis": {"orient": "bottom", "values": [5,15,25,35,45], "labels": false, "title": null, "domain": false, "tickSize": -5}}, "y": {"datum": 53.9, "type": "quantitative", "axis": {"orient": "left", "values": [15,25,35,45], "labels": false, "title": null, "domain": false, "tickSize": -5, "minExtent": 0}}, "text": {"field": "lab"}}}
       ]},
      {"width": 180, "height": 122, "view": {"stroke": "black", "strokeWidth": 1.3},
       "layer": [
        {"data": {"name": "ts"}, "transform": [{"filter": "datum.p == 'MG2'"}, {"fold": ["n","a","b"], "as": ["s","v"]}],
         "mark": {"type": "line", "strokeWidth": 1.3},
         "encoding": {
          "x": {"field": "t", "type": "quantitative", "scale": {"domain": [0, 50], "nice": false}, "axis": {"values": [0,5,10,15,20,25,30,35,40,45,50], "labels": false, "title": null, "domain": false, "tickSize": -5}},
          "y": {"field": "v", "type": "quantitative", "scale": {"domain": [11.6, 53.9], "nice": false, "zero": false}, "axis": {"values": [15,20,25,30,35,40,45,50], "labels": false, "title": null, "domain": false, "tickSize": -5, "minExtent": 0}},
          "color": {"field": "s", "type": "nominal", "scale": {"domain": ["n","a","b"], "range": ["#000000","#ff0000","#0000ff"]}}
         }},
        {"data": {"values": [{"lab": "(2)"}]}, "mark": {"type": "text", "align": "right", "baseline": "top", "dx": -3, "dy": 3, "fontSize": 10, "fontWeight": "bold", "color": "black"},
         "encoding": {"x": {"datum": 50, "type": "quantitative"}, "y": {"datum": 53.9, "type": "quantitative"}, "text": {"field": "lab"}}}
       ]},
      {"width": 181, "height": 122, "view": {"stroke": "black", "strokeWidth": 1.3},
       "resolve": {"axis": {"x": "independent", "y": "independent"}},
       "layer": [
        {"data": {"name": "ts"}, "transform": [{"filter": "datum.p == 'NF3'"}, {"fold": ["n","a","b"], "as": ["s","v"]}],
         "mark": {"type": "line", "strokeWidth": 1.3},
         "encoding": {
          "x": {"field": "t", "type": "quantitative", "scale": {"domain": [0, 50], "nice": false}, "axis": {"orient": "bottom", "values": [0,10,20,30,40,50], "labels": false, "title": null, "domain": false, "tickSize": -5}},
          "y": {"field": "v", "type": "quantitative", "scale": {"domain": [11.6, 53.9], "nice": false, "zero": false}, "axis": {"orient": "left", "values": [20,30,40,50], "labelOverlap": false, "labelFontSize": 11, "labelPadding": 8, "title": null, "domain": false, "tickSize": -5, "minExtent": 0}},
          "color": {"field": "s", "type": "nominal", "scale": {"domain": ["n","a","b"], "range": ["#000000","#ff0000","#0000ff"]}}
         }},
        {"data": {"values": [{"lab": "(3)"}]}, "mark": {"type": "text", "align": "right", "baseline": "top", "dx": -3, "dy": 3, "fontSize": 10, "fontWeight": "bold", "color": "black"},
         "encoding": {"x": {"datum": 50, "type": "quantitative", "axis": {"orient": "bottom", "values": [5,15,25,35,45], "labels": false, "title": null, "domain": false, "tickSize": -5}}, "y": {"datum": 53.9, "type": "quantitative", "axis": {"orient": "left", "values": [15,25,35,45], "labels": false, "title": null, "domain": false, "tickSize": -5, "minExtent": 0}}, "text": {"field": "lab"}}}
       ]},
      {"width": 180, "height": 122, "view": {"stroke": "black", "strokeWidth": 1.3},
       "layer": [
        {"data": {"name": "ts"}, "transform": [{"filter": "datum.p == 'MG3'"}, {"fold": ["n","a","b"], "as": ["s","v"]}],
         "mark": {"type": "line", "strokeWidth": 1.3},
         "encoding": {
          "x": {"field": "t", "type": "quantitative", "scale": {"domain": [0, 50], "nice": false}, "axis": {"values": [0,5,10,15,20,25,30,35,40,45,50], "labels": false, "title": null, "domain": false, "tickSize": -5}},
          "y": {"field": "v", "type": "quantitative", "scale": {"domain": [11.6, 53.9], "nice": false, "zero": false}, "axis": {"values": [15,20,25,30,35,40,45,50], "labels": false, "title": null, "domain": false, "tickSize": -5, "minExtent": 0}},
          "color": {"field": "s", "type": "nominal", "scale": {"domain": ["n","a","b"], "range": ["#000000","#ff0000","#0000ff"]}}
         }},
        {"data": {"values": [{"lab": "(3)"}]}, "mark": {"type": "text", "align": "right", "baseline": "top", "dx": -3, "dy": 3, "fontSize": 10, "fontWeight": "bold", "color": "black"},
         "encoding": {"x": {"datum": 50, "type": "quantitative"}, "y": {"datum": 53.9, "type": "quantitative"}, "text": {"field": "lab"}}}
       ]},
      {"width": 181, "height": 122, "view": {"stroke": "black", "strokeWidth": 1.3},
       "resolve": {"axis": {"x": "independent", "y": "independent"}},
       "layer": [
        {"data": {"name": "ts"}, "transform": [{"filter": "datum.p == 'NF4'"}, {"fold": ["n","a","b"], "as": ["s","v"]}],
         "mark": {"type": "line", "strokeWidth": 1.3},
         "encoding": {
          "x": {"field": "t", "type": "quantitative", "scale": {"domain": [0, 50], "nice": false}, "axis": {"orient": "bottom", "values": [0,10,20,30,40,50], "labelOverlap": false, "labelFlush": false, "labelFontSize": 11, "labelPadding": 8, "title": null, "domain": false, "tickSize": -5}},
          "y": {"field": "v", "type": "quantitative", "scale": {"domain": [11.6, 53.9], "nice": false, "zero": false}, "axis": {"orient": "left", "values": [20,30,40,50], "labelOverlap": false, "labelFontSize": 11, "labelPadding": 8, "title": null, "domain": false, "tickSize": -5, "minExtent": 0}},
          "color": {"field": "s", "type": "nominal", "scale": {"domain": ["n","a","b"], "range": ["#000000","#ff0000","#0000ff"]}}
         }},
        {"data": {"values": [{"lab": "(4)"}]}, "mark": {"type": "text", "align": "right", "baseline": "top", "dx": -3, "dy": 3, "fontSize": 10, "fontWeight": "bold", "color": "black"},
         "encoding": {"x": {"datum": 50, "type": "quantitative", "axis": {"orient": "bottom", "values": [5,15,25,35,45], "labels": false, "title": null, "domain": false, "tickSize": -5}}, "y": {"datum": 53.9, "type": "quantitative", "axis": {"orient": "left", "values": [15,25,35,45], "labels": false, "title": null, "domain": false, "tickSize": -5, "minExtent": 0}}, "text": {"field": "lab"}}}
       ]},
      {"width": 180, "height": 122, "view": {"stroke": "black", "strokeWidth": 1.3},
       "resolve": {"axis": {"x": "independent", "y": "independent"}},
       "layer": [
        {"data": {"name": "ts"}, "transform": [{"filter": "datum.p == 'MG4'"}, {"fold": ["n","a","b"], "as": ["s","v"]}],
         "mark": {"type": "line", "strokeWidth": 1.3},
         "encoding": {
          "x": {"field": "t", "type": "quantitative", "scale": {"domain": [0, 50], "nice": false}, "axis": {"orient": "bottom", "values": [0,10,20,30,40,50], "labelOverlap": false, "labelFlush": false, "labelFontSize": 11, "labelPadding": 8, "title": null, "domain": false, "tickSize": -5}},
          "y": {"field": "v", "type": "quantitative", "scale": {"domain": [11.6, 53.9], "nice": false, "zero": false}, "axis": {"orient": "left", "values": [15,20,25,30,35,40,45,50], "labels": false, "title": null, "domain": false, "tickSize": -5, "minExtent": 0}},
          "color": {"field": "s", "type": "nominal", "scale": {"domain": ["n","a","b"], "range": ["#000000","#ff0000","#0000ff"]}}
         }},
        {"data": {"values": [{"lab": "(4)"}]}, "mark": {"type": "text", "align": "right", "baseline": "top", "dx": -3, "dy": 3, "fontSize": 10, "fontWeight": "bold", "color": "black"},
         "encoding": {"x": {"datum": 50, "type": "quantitative", "axis": {"orient": "bottom", "values": [5,15,25,35,45], "labels": false, "title": null, "domain": false, "tickSize": -5}}, "y": {"datum": 53.9, "type": "quantitative", "axis": null}, "text": {"field": "lab"}}}
       ]}
     ]
    }]
   }]
  },
  {
   "title": {"text": "(c)", "anchor": "start", "frame": "bounds", "font": "Open Sans", "fontSize": 26, "fontWeight": "bold", "offset": 33},
   "vconcat": [{
    "title": {"text": "% of Total Population", "orient": "left", "anchor": "middle", "frame": "bounds", "fontSize": 12.5, "fontWeight": "bold", "offset": 16},
    "spacing": 0,
    "bounds": "flush",
    "vconcat": [
     {"width": 390, "height": 146, "view": {"stroke": "black", "strokeWidth": 1},
      "resolve": {"axis": {"x": "independent", "y": "independent"}},
      "layer": [
       {"data": {"name": "cfree"}, "mark": {"type": "area", "color": "#bebebe", "line": {"color": "black", "strokeWidth": 1.5}},
        "encoding": {
         "x": {"field": "d", "type": "quantitative", "scale": {"domain": [25, 55], "nice": false}, "axis": {"orient": "bottom", "values": [25,30,35,40,45,50,55], "labels": false, "title": null, "domainWidth": 2, "domainColor": "#333333", "tickSize": -7, "tickColor": "#333333"}},
         "y": {"field": "p", "type": "quantitative", "scale": {"domain": [0, 2.5], "nice": false}, "axis": {"orient": "left", "values": [0,0.5,1,1.5,2,2.5], "format": "~g", "labelOverlap": false, "labelFontSize": 9.5, "labelFontWeight": "bold", "labelPadding": 3, "title": null, "domain": false, "minExtent": 0, "tickSize": -7, "tickColor": "#333333"}}
        }},
       {"data": {"values": [{"x": 44.8}]}, "mark": {"type": "rule", "strokeDash": [5, 3], "color": "black", "strokeWidth": 1.2},
        "encoding": {"x": {"field": "x", "type": "quantitative", "axis": null}}},
       {"data": {"values": [{"t": "Crystal structure"}]}, "mark": {"type": "text", "align": "left", "baseline": "middle", "fontSize": 9, "fontWeight": "bold", "color": "black"},
        "encoding": {"x": {"datum": 46.8, "type": "quantitative", "axis": {"orient": "bottom", "values": [26,27,28,29,31,32,33,34,36,37,38,39,41,42,43,44,46,47,48,49,51,52,53,54], "labels": false, "title": null, "domain": false, "tickSize": -3.5, "tickColor": "#333333"}}, "y": {"datum": 1.72, "type": "quantitative", "axis": {"orient": "left", "values": [0.1,0.2,0.3,0.4,0.6,0.7,0.8,0.9,1.1,1.2,1.3,1.4,1.6,1.7,1.8,1.9,2.1,2.2,2.3,2.4], "labels": false, "title": null, "domain": false, "minExtent": 0, "tickSize": -3.5, "tickColor": "#333333"}}, "text": {"field": "t"}}},
       {"data": {"values": [{"k": "arrow"}]}, "mark": {"type": "rule", "color": "black", "strokeWidth": 1.2},
        "encoding": {"x": {"datum": 46.7, "type": "quantitative", "axis": null}, "y": {"datum": 1.61, "type": "quantitative", "axis": null}, "x2": {"datum": 45.2}, "y2": {"datum": 1.3}}},
       {"data": {"values": [{"k": "arrowhead"}]}, "mark": {"type": "point", "shape": "triangle-up", "angle": 228, "filled": true, "color": "black", "size": 35, "opacity": 1},
        "encoding": {"x": {"datum": 45.05, "type": "quantitative", "axis": null}, "y": {"datum": 1.27, "type": "quantitative", "axis": null}}},
       {"data": {"values": [{"t": "Nucleotide-Free ("}]}, "mark": {"type": "text", "align": "left", "baseline": "middle", "fontSize": 11, "fontWeight": "bold", "color": "black"},
        "encoding": {"x": {"datum": 26.1, "type": "quantitative", "axis": null}, "y": {"datum": 2.2, "type": "quantitative", "axis": null}, "text": {"field": "t"}}},
       {"data": {"values": [{"t": "apo"}]}, "mark": {"type": "text", "align": "left", "baseline": "middle", "fontSize": 11, "fontWeight": "bold", "fontStyle": "italic", "color": "black", "dx": 90},
        "encoding": {"x": {"datum": 26.1, "type": "quantitative", "axis": null}, "y": {"datum": 2.2, "type": "quantitative", "axis": null}, "text": {"field": "t"}}},
       {"data": {"values": [{"t": ")"}]}, "mark": {"type": "text", "align": "left", "baseline": "middle", "fontSize": 11, "fontWeight": "bold", "color": "black", "dx": 110},
        "encoding": {"x": {"datum": 26.1, "type": "quantitative", "axis": null}, "y": {"datum": 2.2, "type": "quantitative", "axis": null}, "text": {"field": "t"}}}
      ]},
     {"width": 390, "height": 147, "view": {"stroke": "black", "strokeWidth": 1},
      "resolve": {"axis": {"x": "independent", "y": "independent"}},
      "layer": [
       {"data": {"name": "cmg"}, "mark": {"type": "area", "color": "#1dbf9e", "line": {"color": "#1c1cc8", "strokeWidth": 1.6}},
        "encoding": {
         "x": {"field": "d", "type": "quantitative", "scale": {"domain": [25, 55], "nice": false}, "axis": {"orient": "bottom", "values": [25,30,35,40,45,50,55], "labelOverlap": false, "labelFlush": true, "labelFontSize": 9.5, "labelFontWeight": "bold", "labelPadding": 6, "title": "Inter-NBD Distance (Å)", "titleFontSize": 13.5, "titleFontWeight": "bold", "titlePadding": 3, "domainWidth": 1.5, "domainColor": "#1c1cc8", "tickSize": -7, "tickColor": "#333333"}},
         "y": {"field": "p", "type": "quantitative", "scale": {"domain": [0, 2.5], "nice": false}, "axis": {"orient": "left", "values": [0,0.5,1,1.5,2], "format": "~g", "labelOverlap": false, "labelFontSize": 9.5, "labelFontWeight": "bold", "labelPadding": 3, "title": null, "domain": false, "minExtent": 0, "tickSize": -7, "tickColor": "#333333"}}
        }},
       {"data": {"values": [{"x": 44.8}]}, "mark": {"type": "rule", "strokeDash": [5, 3], "color": "black", "strokeWidth": 1.2},
        "encoding": {"x": {"field": "x", "type": "quantitative", "axis": null}}},
       {"data": {"values": [{"t": "Mg-ATP-Docked"}]}, "mark": {"type": "text", "align": "left", "baseline": "middle", "fontSize": 11, "fontWeight": "bold", "color": "#1c1cc8"},
        "encoding": {"x": {"datum": 25.9, "type": "quantitative", "axis": {"orient": "bottom", "values": [26,27,28,29,31,32,33,34,36,37,38,39,41,42,43,44,46,47,48,49,51,52,53,54], "labels": false, "title": null, "domain": false, "tickSize": -3.5, "tickColor": "#333333"}}, "y": {"datum": 2.2, "type": "quantitative", "axis": {"orient": "left", "values": [0.1,0.2,0.3,0.4,0.6,0.7,0.8,0.9,1.1,1.2,1.3,1.4,1.6,1.7,1.8,1.9,2.1,2.2,2.3,2.4], "labels": false, "title": null, "domain": false, "minExtent": 0, "tickSize": -3.5, "tickColor": "#333333"}}, "text": {"field": "t"}}}
      ]}
    ]
   }]
  }
 ]
}
]
}
